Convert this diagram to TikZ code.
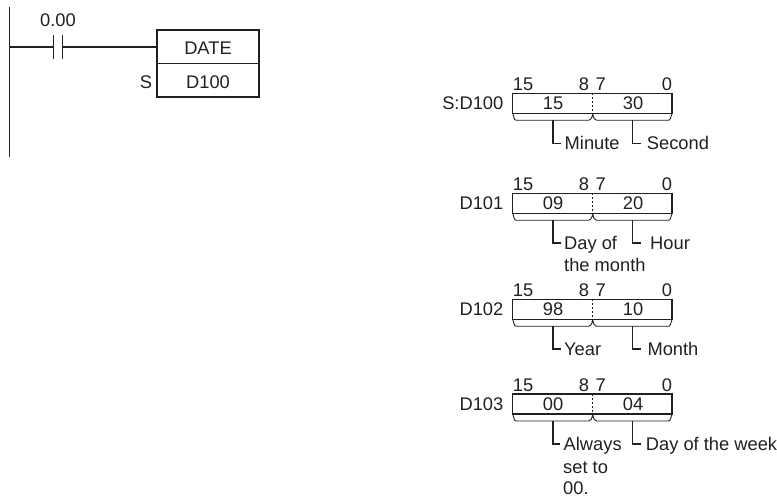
\documentclass[tikz,border=0pt]{standalone}
\usepackage{fontspec}
\setmainfont{Liberation Sans}
\definecolor{ink}{HTML}{231F20}
\newcommand{\lbl}{\fontsize{18.3}{20}\selectfont}
\tikzset{
  wire/.style={draw=ink,line width=1.1pt},
  thinwire/.style={draw=ink,line width=0.9pt},
  txt/.style={text=ink,font=\lbl,inner sep=0pt},
  base/.style={txt,anchor=base},
  leaderlabel/.style={txt,anchor=base west,inner xsep=3.5pt,inner ysep=0pt,text height=13pt,text depth=0pt},
  plain/.style={txt,anchor=base west},
  cell/.style={draw=ink,line width=1.1pt,minimum width=102pt,minimum height=33.5pt,inner sep=0pt,text=ink,font=\lbl},
}
% name, top y, register label, left value, right value
\newcommand{\wordbox}[5]{%
  \coordinate (#1-tl) at (512.7,#2);
  \coordinate (#1-tm) at (592.7,#2);
  \coordinate (#1-tr) at (672,#2);
  \coordinate (#1-bl) at (512.7,#2+20);
  \coordinate (#1-bm) at (592.7,#2+20);
  \coordinate (#1-br) at (672,#2+20);
  \coordinate (#1-ll) at (553,#2+27);
  \coordinate (#1-lr) at (632.7,#2+27);
  \draw[wire] (#1-tl) rectangle (#1-br);
  \draw[thinwire,dash pattern=on 2pt off 2pt] (#1-tm) -- (#1-bm);
  \draw[thinwire,line join=round] (#1-bl) -- (514.2,#2+25)
     .. controls (514.6,#2+26.4) and (515.2,#2+27) .. (516.7,#2+27)
     -- (588.7,#2+27)
     .. controls (590.7,#2+27) and (592,#2+25) .. (#1-bm)
     .. controls (593.4,#2+25) and (594.7,#2+27) .. (596.7,#2+27)
     -- (668,#2+27)
     .. controls (669.5,#2+27) and (670.1,#2+26.4) .. (670.5,#2+25)
     -- (#1-br);
  \node[base] (#1-n15) at (523,#2-2.6) {15};
  \node[base] (#1-n8) at (584,#2-2.6) {8};
  \node[base] (#1-n7) at (600.7,#2-2.6) {7};
  \node[base] (#1-n0) at (667,#2-2.6) {0};
  \node[base] (#1-vl) at (553,#2+16.7) {#4};
  \node[base] (#1-vr) at (633,#2+16.7) {#5};
  \node[txt,anchor=base east] (#1-reg) at (503.5,#2+16.7) {#3};
}
\begin{document}
\begin{tikzpicture}[x=1pt,y=-1pt]
\useasboundingbox (0,0) rectangle (777,497);
% ladder
\coordinate (busT) at (9.5,7);
\coordinate (busB) at (9.5,157);
\coordinate (busR) at (9.5,47);
\coordinate (plAt) at (53.5,35);
\coordinate (plAb) at (53.5,59);
\coordinate (plBt) at (62.5,35);
\coordinate (plBb) at (62.5,59);
\coordinate (plAm) at (53.5,47);
\coordinate (plBm) at (62.5,47);
\node[cell] (date) at (208,46.8) {};
\node[cell] (dval) at (208,80.3) {};
\node[txt] (datet) at (208,48.5) {DATE};
\node[txt] (dvalt) at (208,82) {D100};
\node[txt] (cont) at (58,20) {0.00};
\node[txt] (slabel) at (146,82) {S};
\draw[wire] (busT) -- (busB);
\draw[wire] (busR) -- (plAm);
\draw[wire] (plAt) -- (plAb);
\draw[wire] (plBt) -- (plBb);
\draw[wire] (plBm) -- (plBm -| date.west);
% word boxes
\wordbox{a}{93.3}{S:D100}{15}{30}
\wordbox{b}{193.3}{D101}{09}{20}
\wordbox{c}{299.3}{D102}{98}{10}
\wordbox{d}{394}{D103}{00}{04}
% labels
\node[leaderlabel] (aL) at (561,150) {Minute};
\node[leaderlabel] (aR) at (641,150) {\hspace{2.2pt}Second};
\node[leaderlabel] (bL) at (560.5,249.5) {Day of};
\node[leaderlabel] (bR) at (641,249.5) {\hspace{5.5pt}Hour};
\node[plain] (bL2) at (564,271.7) {the month};
\node[leaderlabel] (cL) at (560.5,355.5) {Year};
\node[leaderlabel] (cR) at (641,355.5) {\hspace{2.8pt}Month};
\node[leaderlabel] (dL) at (560,450.5) {Always};
\node[leaderlabel] (dR) at (641,450.5) {\hspace{1.2pt}Day of the week};
\node[plain] (dL2) at (563,473) {set to};
\node[plain] (dL3) at (563,494) {00.};
\foreach \w in {a,b,c,d}{
  \draw[wire] (\w-ll) |- (\w L.west);
  \draw[wire] (\w-lr) |- (\w R.west);
}
\end{tikzpicture}
\end{document}
